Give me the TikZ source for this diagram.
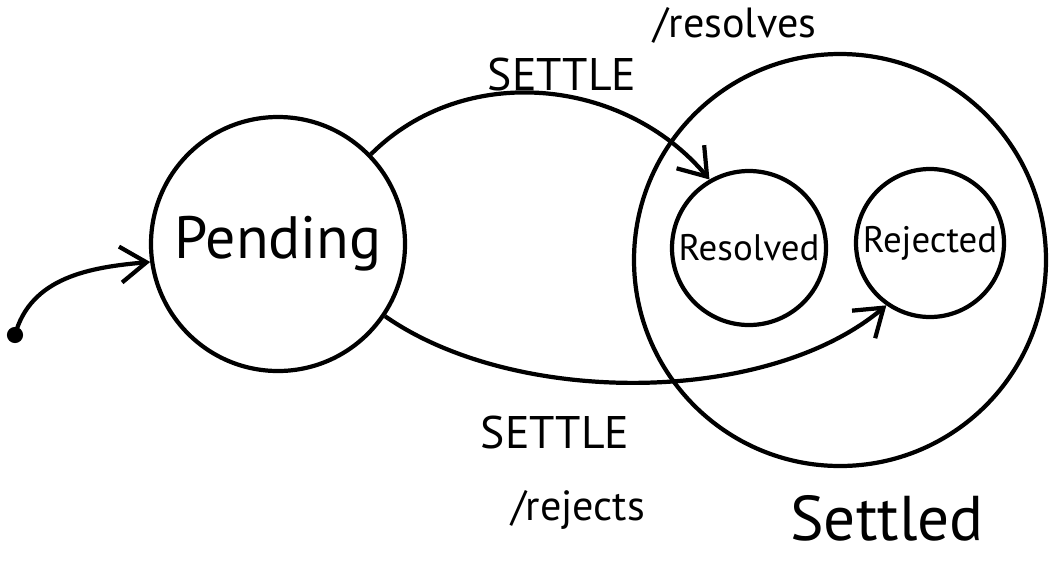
\documentclass[tikz,border=0pt]{standalone}
\usepackage{fontspec}
\setmainfont{PT Sans}
\usetikzlibrary{arrows.meta,positioning}

\begin{document}
\begin{tikzpicture}[
    stato/.style={draw, circle, line width=1.2pt, inner sep=0pt},
    freccia/.style={-{Straight Barb[length=2.6mm,width=3.6mm]}, line width=1.2pt},
    etichetta/.style={font=\fontsize{13}{15}\selectfont, inner sep=1pt},
]
    \useasboundingbox (0,0) rectangle (10.54,5.62);

    % Stato composto Settled
    \node[stato, minimum size=4.12cm] (settled) at (8.40,3.02) {};
    \node[font=\fontsize{18}{22}\selectfont] (settledlbl) at (8.87,0.44) {Settled};

    % Stati
    \node[stato, minimum size=2.54cm, font=\fontsize{17}{20}\selectfont] (pending) at (2.78,3.18) {Pending};
    \node[stato, minimum size=1.54cm, font=\fontsize{10.5}{12}\selectfont] (resolved) at (7.49,3.14) {Resolved};
    \node[stato, minimum size=1.48cm, font=\fontsize{10.5}{12}\selectfont] (rejected) at (9.30,3.19) {Rejected};

    % Stato iniziale
    \fill (0.15,2.27) circle (2.3pt) coordinate (init);
    \draw[freccia] (init) to[out=75, in=185] (pending.188);

    % Transizioni
    \draw[freccia] (pending.44) to[out=45, in=130] (resolved.120);
    \draw[freccia] (pending.-34) to[out=-35, in=-140, looseness=0.8] (rejected.-125);

    % Etichette delle transizioni
    \node[etichetta] (settleup) at (5.62,4.87) {SETTLE};
    \node[etichetta, font=\fontsize{12}{14}\selectfont] (resolves) at (7.35,5.37) {/resolves};
    \node[etichetta] (settledown) at (5.55,1.30) {SETTLE};
    \node[etichetta, font=\fontsize{12}{14}\selectfont] (rejects) at (5.78,0.52) {/rejects};
\end{tikzpicture}
\end{document}
